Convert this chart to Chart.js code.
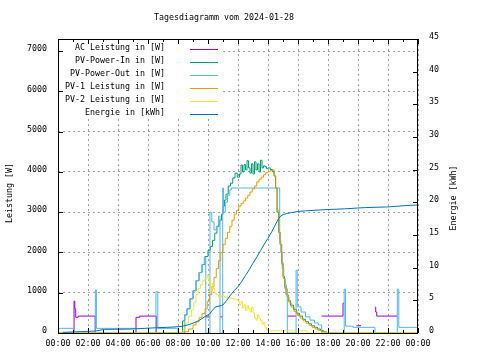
<!DOCTYPE html>
<html><head><meta charset="utf-8">
<script src="https://cdn.jsdelivr.net/npm/chart.js@4.4.1/dist/chart.umd.min.js"></script>
<style>html,body{margin:0;padding:0;background:#fff}</style>
</head><body>
<canvas id="c" width="480" height="360"></canvas>
<script>
// ---- labels ----
const titleText = 'Tagesdiagramm vom 2024-01-28';
const leftTitle = 'Leistung [W]';
const rightTitle = 'Energie [kWh]';
const xTickLabels = ['00:00','02:00','04:00','06:00','08:00','10:00','12:00','14:00','16:00','18:00','20:00','22:00','00:00'];
const yTickValues = [0,1000,2000,3000,4000,5000,6000,7000];
const y2TickValues = [0,5,10,15,20,25,30,35,40,45];
const seriesLabels = ['AC Leistung in [W]','PV-Power-In in [W]','PV-Power-Out in [W]','PV-1 Leistung in [W]','PV-2 Leistung in [W]','Energie in [kWh]'];

// ---- data: [hour, value]; null = hidden under PV-Power-Out ----
const acPower = [[0,0],[1.07,790],[1.12,600],[1.18,390],[1.35,420],[2.48,0],[5.2,390],[5.45,420],[6.55,0],[8.45,0],[8.45,null],
 [9.85,400],[10.13,400],[10.13,null],
 [10.8,400],[10.98,400],[10.98,null],
 [15.29,420],[15.87,420],[15.87,null],
 [17.58,420],[19.0,740],[19.08,740],[19.08,null],
 [19.9,180],[20.2,180],[20.2,null],
 [21.13,640],[21.18,520],[21.25,420],[22.62,420],[22.62,null]];
const pvIn = [[0,0],[8.3,300],[8.45,450],[8.6,600],[8.8,850],[9.0,1050],[9.2,1300],[9.4,1500],[9.6,1700],[9.8,1900],[10.0,2050],[10.15,2150],[10.3,2300],[10.45,2480],[10.6,2650],[10.75,2800],[10.9,2950],[11.0,3150],[11.1,3300],[11.2,3450],[11.35,3650],[11.5,3720],[11.65,3850],[11.8,3970],[11.95,3870],[12.1,3950],[12.2,4170],[12.3,4000],[12.4,4180],[12.5,4050],[12.6,4280],[12.7,4100],[12.8,3970],[12.9,4200],[13.0,3950],[13.1,4250],[13.2,4050],[13.3,4200],[13.4,4000],[13.5,4290],[13.6,4100],[13.7,4150],[13.8,4130],[13.9,4080],[14.0,4100],[14.15,4060],[14.3,4000],[14.4,3900],[14.5,3600],[14.6,3000],[14.7,2500],[14.8,2200],[14.9,1750],[15.0,1400],[15.1,1150],[15.2,950],[15.35,800],[15.5,690],[15.7,580],[15.9,490],[16.1,420],[16.3,340],[16.5,280],[16.7,230],[16.9,180],[17.1,140],[17.3,100],[17.5,60],[17.7,30],[17.9,0],[24,0]];
const pvOut = [[0,115],[1.07,0],[2.49,1070],[2.56,115],[5.2,0],[6.53,1025],[6.65,115],[8.0,0],[8.45,450],[8.6,600],[8.8,850],[9.0,1050],[9.2,1300],[9.4,1500],[9.6,1700],[9.75,1880],[9.85,0],[10.13,3000],[10.25,2760],[10.4,2560],[10.55,2650],[10.7,2900],[10.8,0],[10.98,3600],[11.03,3000],[11.15,3250],[11.3,3420],[11.45,3550],[11.56,3600],
 [14.78,2300],[14.85,2000],[14.95,1600],[15.05,1350],[15.15,1200],[15.22,1100],[15.29,0],[15.87,1560],[15.95,650],[16.2,520],[16.5,400],[16.8,320],[17.1,250],[17.35,200],[17.58,0],[19.08,1090],[19.17,170],[19.67,140],[21.13,0],[22.62,1090],[22.72,140],[24,140]];
const pv1 = [[0,0],[8.3,30],[8.7,100],[9.0,200],[9.2,280],[9.4,380],[9.6,480],[9.8,600],[9.95,780],[10.1,950],[10.25,1150],[10.4,1380],[10.55,1600],[10.7,1800],[10.85,2000],[11.0,2200],[11.15,2350],[11.3,2500],[11.45,2650],[11.6,2800],[11.75,2950],[11.9,3050],[12.05,3150],[12.2,3220],[12.35,3280],[12.5,3350],[12.65,3420],[12.8,3500],[12.95,3580],[13.1,3650],[13.25,3750],[13.4,3820],[13.55,3870],[13.7,3930],[13.85,3980],[14.0,4010],[14.15,4030],[14.3,4045],[14.42,3900],[14.52,3600],[14.62,3050],[14.72,2500],[14.82,2200],[14.92,1700],[15.02,1350],[15.12,1100],[15.25,900],[15.4,750],[15.55,640],[15.75,530],[15.95,440],[16.15,370],[16.35,300],[16.55,240],[16.75,190],[16.95,140],[17.15,100],[17.35,65],[17.55,35],[17.75,15],[17.9,0],[24,0]];
const pv2 = [[0,0],[8.35,100],[8.5,250],[8.7,420],[8.9,580],[9.05,750],[9.2,950],[9.35,1100],[9.5,1200],[9.65,1300],[9.8,1360],[9.95,1440],[10.05,1300],[10.12,1150],[10.2,1030],[10.28,1230],[10.36,1100],[10.45,990],[10.55,950],[10.7,900],[10.9,920],[11.1,890],[11.3,880],[11.5,860],[11.7,840],[11.9,820],[12.0,790],[12.1,700],[12.2,780],[12.3,620],[12.4,700],[12.5,560],[12.6,680],[12.7,600],[12.8,520],[12.9,640],[13.0,500],[13.1,380],[13.2,320],[13.3,450],[13.4,360],[13.5,300],[13.6,220],[13.7,260],[13.8,130],[13.9,80],[14.0,55],[16.6,0],[24,0]];
const energy = [[0.33,0.1],[2.5,0.3],[3.1,0.55],[4.75,0.6],[6.55,0.8],[7.6,0.9],[8.2,1.0],[8.6,1.2],[9.0,1.5],[9.3,1.8],[9.6,2.2],[9.85,2.6],[10.1,2.9],[10.3,3.5],[10.5,4.0],[10.9,4.2],[11.0,4.3],[11.25,5.0],[11.5,5.8],[11.75,6.5],[12.0,7.1],[12.25,7.9],[12.5,8.8],[12.75,9.7],[13.0,10.7],[13.25,11.6],[13.5,12.6],[13.75,13.6],[14.0,14.5],[14.25,15.5],[14.5,16.6],[14.7,17.5],[14.85,17.9],[15.0,18.1],[15.25,18.3],[15.5,18.4],[16.0,18.6],[16.5,18.7],[17.2,18.8],[18.0,18.9],[19.1,19.0],[20.5,19.2],[22.0,19.3],[23.2,19.5],[24,19.6]];

const seriesColors = ['#9400D3','#009E73','#56B4E9','#E69F00','#F0E442','#0072B2'];
const FONT = '8.3px "DejaVu Sans Mono"';

const toXY = arr => arr.map(p => ({x: p[0], y: p[1]}));
const allSeries = [acPower, pvIn, pvOut, pv1, pv2, energy];
const datasets = allSeries.map((s, i) => ({
  label: seriesLabels[i],
  data: toXY(s),
  borderColor: seriesColors[i],
  backgroundColor: seriesColors[i],
  borderWidth: 1,
  pointRadius: 0,
  fill: false,
  spanGaps: false,
  stepped: i === 5 ? false : true,
  yAxisID: i === 5 ? 'y2' : 'y',
  order: 5 - i
}));

const deco = {
  id: 'deco',
  afterDatasetsDraw(chart) {
    const {ctx, chartArea: a, scales} = chart;
    ctx.save();
    // opaque key box
    ctx.fillStyle = '#fff';
    ctx.fillRect(a.left + 1, a.top + 1, 222 - a.left, 118 - a.top);
    ctx.font = FONT;
    ctx.fillStyle = '#000';
    ctx.textAlign = 'right';
    ctx.textBaseline = 'middle';
    chart.data.datasets.forEach((ds, i) => {
      const y = 49 + i * 13;
      ctx.fillText(ds.label, 165, y - 1);
      ctx.strokeStyle = ds.borderColor;
      ctx.lineWidth = 1;
      ctx.beginPath(); ctx.moveTo(190, y + 0.5); ctx.lineTo(218, y + 0.5); ctx.stroke();
    });
    // frame
    ctx.strokeStyle = '#000';
    ctx.lineWidth = 1;
    ctx.strokeRect(a.left + 0.5, a.top + 0.5, a.right - a.left - 1, a.bottom - a.top);
    // ticks (inward)
    ctx.beginPath();
    yTickValues.forEach(v => {
      const y = Math.round(scales.y.getPixelForValue(v)) + 0.5;
      ctx.moveTo(a.left, y); ctx.lineTo(a.left + 5, y);
    });
    y2TickValues.forEach(v => {
      const y = Math.round(scales.y2.getPixelForValue(v)) + 0.5;
      ctx.moveTo(a.right, y); ctx.lineTo(a.right - 5, y);
    });
    for (let h = 0; h <= 24; h += 1) {
      const x = Math.round(scales.x.getPixelForValue(h)) + 0.5;
      const len = h % 2 === 0 ? 5 : 3;
      ctx.moveTo(x, a.bottom); ctx.lineTo(x, a.bottom - len);
      ctx.moveTo(x, a.top); ctx.lineTo(x, a.top + len);
    }
    ctx.stroke();
    // titles
    ctx.fillStyle = '#000';
    ctx.textAlign = 'center';
    ctx.textBaseline = 'middle';
    ctx.fillText(titleText, 224, 18);
    ctx.save(); ctx.translate(10, 193); ctx.rotate(-Math.PI / 2); ctx.fillText(leftTitle, 0, 0); ctx.restore();
    ctx.save(); ctx.translate(454, 198); ctx.rotate(-Math.PI / 2); ctx.fillText(rightTitle, 0, 0); ctx.restore();
    ctx.restore();
  }
};

Chart.defaults.font.family = '"DejaVu Sans Mono"';
Chart.defaults.font.size = 8.3;
Chart.defaults.color = '#000';

new Chart(document.getElementById('c'), {
  type: 'line',
  data: { datasets },
  options: {
    responsive: false,
    animation: false,
    events: [],
    layout: { padding: { top: 39, left: 0, right: 0, bottom: 0 } },
    plugins: { legend: { display: false }, title: { display: false }, tooltip: { enabled: false } },
    scales: {
      x: {
        type: 'linear', min: 0, max: 24,
        ticks: { stepSize: 2, autoSkip: false, maxRotation: 0, padding: 6,
                 callback: v => xTickLabels[Math.round(v / 2)] },
        grid: { color: '#a0a0a0', drawTicks: false, lineWidth: 1 },
        border: { display: false, dash: [2, 3] },
        afterFit: s => { s.height = 27; }
      },
      y: {
        position: 'left', min: 0, max: 7300,
        ticks: { autoSkip: false, padding: 11, labelOffset: -2, callback: v => String(v) },
        afterBuildTicks: s => { s.ticks = yTickValues.map(v => ({value: v})); },
        grid: { color: '#a0a0a0', drawTicks: false, lineWidth: 1 },
        border: { display: false, dash: [2, 3] },
        afterFit: s => { s.width = 58; }
      },
      y2: {
        position: 'right', min: 0, max: 45,
        ticks: { autoSkip: false, padding: 11, labelOffset: -2, callback: v => String(v) },
        afterBuildTicks: s => { s.ticks = y2TickValues.map(v => ({value: v})); },
        grid: { drawOnChartArea: false, drawTicks: false },
        border: { display: false },
        afterFit: s => { s.width = 62; }
      }
    }
  },
  plugins: [deco]
});
</script>
</body></html>
